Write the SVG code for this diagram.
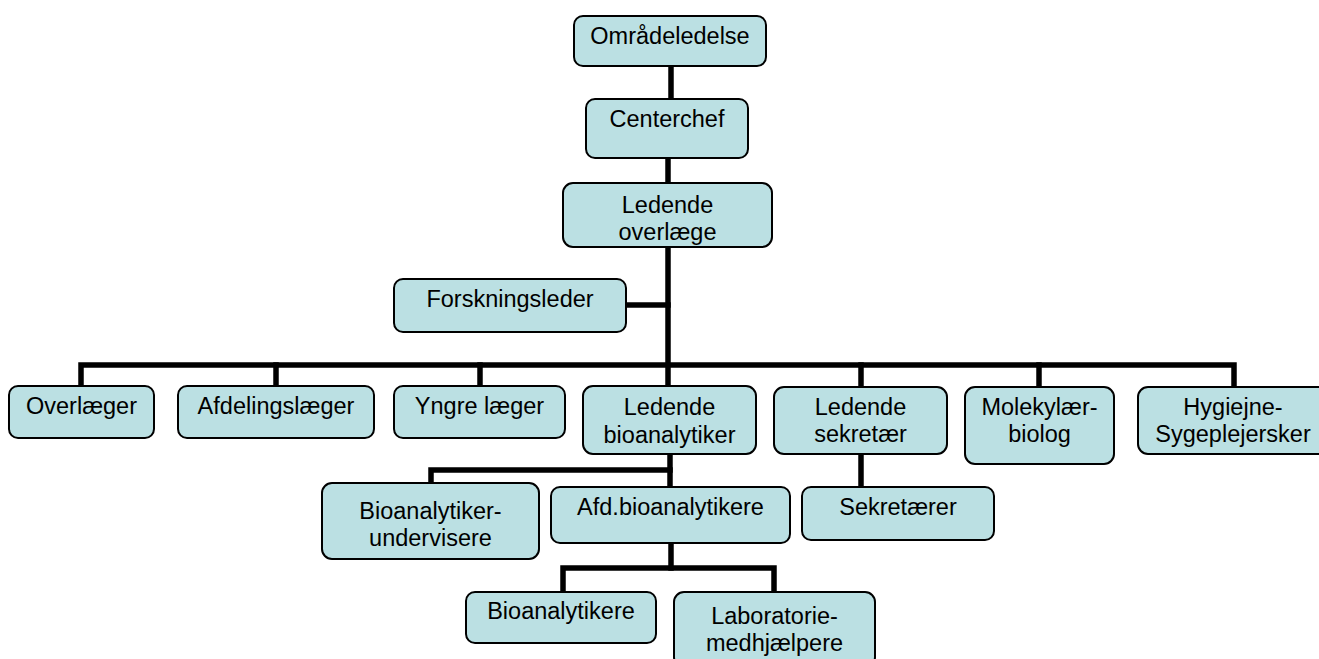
<svg xmlns="http://www.w3.org/2000/svg" width="1319" height="659" viewBox="0 0 1319 659">
<style>
.box{fill:#BBE0E3;stroke:#000;stroke-width:2}
.t{font-family:"Liberation Sans",Arial,sans-serif;font-size:23.5px;fill:#000;text-anchor:middle}
.c{fill:none;stroke:#000;stroke-width:5.5;stroke-linecap:square;stroke-linejoin:miter}
</style>
<rect width="1319" height="659" fill="#fff"/>
<g id="connectors">
<path class="c" d="M671,66 V99"/>
<path class="c" d="M668,158 V183"/>
<path class="c" d="M668,247 V386"/>
<path class="c" d="M626,305 H668"/>
<path class="c" d="M81,386 V365 H1234 V386"/>
<path class="c" d="M276,365 V386"/>
<path class="c" d="M480,365 V386"/>
<path class="c" d="M861,365 V386"/>
<path class="c" d="M1039,365 V386"/>
<path class="c" d="M670,454 V487"/>
<path class="c" d="M431,483 V470 H670"/>
<path class="c" d="M861,454 V487"/>
<path class="c" d="M671,543 V568"/>
<path class="c" d="M563,592 V568 H774 V592"/>
</g>
<g id="n_omraadeledelse"><rect class="box" x="574" y="16" width="192" height="50" rx="9"/><text class="t" x="670" y="44">Områdeledelse</text></g>
<g id="n_centerchef"><rect class="box" x="586" y="99" width="162" height="59" rx="9"/><text class="t" x="667" y="127">Centerchef</text></g>
<g id="n_ledende_overlaege"><rect class="box" x="563" y="183" width="209" height="64" rx="10"/><text class="t" x="667.5" y="213">Ledende</text><text class="t" x="667.5" y="240">overlæge</text></g>
<g id="n_forskningsleder"><rect class="box" x="394" y="279" width="232" height="53" rx="9"/><text class="t" x="510" y="307">Forskningsleder</text></g>
<g id="n_overlaeger"><rect class="box" x="9" y="386" width="145" height="52" rx="9"/><text class="t" x="81.5" y="414">Overlæger</text></g>
<g id="n_afdelingslaeger"><rect class="box" x="178" y="386" width="196" height="52" rx="9"/><text class="t" x="276" y="414">Afdelingslæger</text></g>
<g id="n_yngre"><rect class="box" x="394" y="386" width="171" height="52" rx="9"/><text class="t" x="479.5" y="414">Yngre læger</text></g>
<g id="n_ledende_bio"><rect class="box" x="583" y="386" width="173" height="68" rx="10"/><text class="t" x="669.5" y="415">Ledende</text><text class="t" x="669.5" y="443">bioanalytiker</text></g>
<g id="n_ledende_sek"><rect class="box" x="774" y="387" width="173" height="67" rx="10"/><text class="t" x="860.5" y="415">Ledende</text><text class="t" x="860.5" y="442">sekretær</text></g>
<g id="n_molekylaer"><rect class="box" x="965" y="387" width="149" height="77" rx="10"/><text class="t" x="1039.5" y="415">Molekylær-</text><text class="t" x="1039.5" y="442">biolog</text></g>
<g id="n_hygiejne"><rect class="box" x="1138" y="387" width="190" height="67" rx="10"/><text class="t" x="1233" y="415">Hygiejne-</text><text class="t" x="1233" y="442">Sygeplejersker</text></g>
<g id="n_bio_undervisere"><rect class="box" x="322" y="483" width="217" height="76" rx="10"/><text class="t" x="430.5" y="519">Bioanalytiker-</text><text class="t" x="430.5" y="546">undervisere</text></g>
<g id="n_afd_bio"><rect class="box" x="551" y="487" width="239" height="56" rx="9"/><text class="t" x="670.5" y="515">Afd.bioanalytikere</text></g>
<g id="n_sekretaerer"><rect class="box" x="802" y="487" width="192" height="53" rx="9"/><text class="t" x="898" y="515">Sekretærer</text></g>
<g id="n_bioanalytikere"><rect class="box" x="466" y="592" width="190" height="51" rx="9"/><text class="t" x="561" y="619">Bioanalytikere</text></g>
<g id="n_laboratorie"><rect class="box" x="674" y="592" width="201" height="75" rx="10"/><text class="t" x="774.5" y="624">Laboratorie-</text><text class="t" x="774.5" y="651">medhjælpere</text></g>
</svg>
